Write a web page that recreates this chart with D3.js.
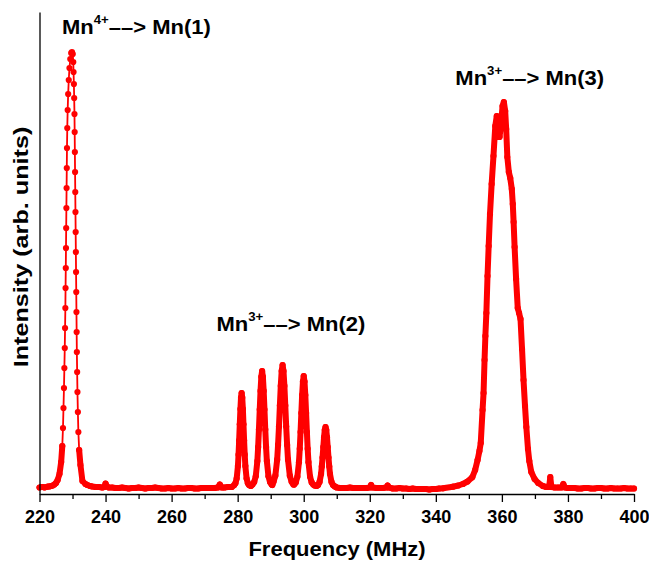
<!DOCTYPE html>
<html>
<head>
<meta charset="utf-8">
<script src="https://cdn.jsdelivr.net/npm/d3@7"></script>
<style>
  body { margin: 0; background: #fff; }
  text { font-family: "Liberation Sans", Arial, sans-serif; font-weight: bold; fill: #000; }
</style>
</head>
<body>
<script>
// tick labels (MHz)
var majorTicks = [220, 240, 260, 280, 300, 320, 340, 360, 380, 400];
var minorTicks = [230, 250, 270, 290, 310, 330, 350, 370, 390];

// annotation texts
var ions = ["4+", "3+", "3+"];
var sites = ["Mn(1)", "Mn(2)", "Mn(3)"];

// spectrum readings: [frequency MHz, intensity arb. units]
var baselineLeft = [
  [220, 6.5], [220.5, 7], [221, 7], [221.5, 6.5], [222, 7], [222.5, 7.5], [223, 7.5],
  [223.5, 8], [224, 8.5], [224.5, 9.5], [225, 11], [225.5, 14]
];

var mn1Peak = [
  [226.05, 20], [226.56, 32], [226.90, 48], [227.11, 66], [227.26, 86], [227.41, 106],
  [227.53, 126], [227.65, 146], [227.74, 166], [227.83, 186], [227.89, 206], [227.96, 226],
  [228.02, 246], [228.08, 266], [228.14, 286], [228.20, 306], [228.26, 326], [228.32, 346],
  [228.41, 366], [228.53, 384], [228.68, 400], [228.86, 414], [229.07, 426], [229.32, 435],
  [229.59, 441], [229.83, 442],
  [230.07, 440], [230.22, 432], [230.31, 422], [230.41, 410], [230.50, 396], [230.59, 380],
  [230.65, 362], [230.71, 342], [230.77, 322], [230.83, 302], [230.89, 282], [230.95, 262],
  [231.01, 242], [231.07, 222], [231.13, 202], [231.19, 182], [231.25, 162], [231.31, 142],
  [231.40, 122], [231.49, 102], [231.62, 82], [231.77, 62], [232.01, 44], [232.40, 29]
];

var baselineMid = [
  [233.0, 13], [233.9, 10], [234.5, 9], [235.3, 8], [236, 7.5], [237, 7], [238, 7], [239, 6.5],
  [239.6, 7], [240, 10.5], [240.4, 7.5], [241, 6.5], [242, 6.5], [243, 6], [244, 6], [245, 6.5],
  [246, 6], [247, 5.5], [248, 6], [249, 6], [250, 6.5], [251, 6], [252, 5.5], [253, 6],
  [254, 6], [255, 6.5], [256, 6], [257, 5.5], [258, 5.5], [259, 6], [260, 5.5], [261, 5.5],
  [262, 6], [263, 5.5], [264, 5.5], [265, 6], [266, 6], [267, 5.5], [268, 5.5], [269, 6],
  [270, 6], [271, 6], [272, 6], [273, 6], [274, 6.5], [274.6, 9.5], [275.2, 6.5], [276, 6.5],
  [277, 7], [277.6, 7]
];

var mn2Peaks = [
  // 281.2
  [278.2, 7], [278.95, 8.9], [279.33, 10.8], [279.7, 15.5], [280.08, 27.9], [280.26, 39.3],
  [280.45, 53.5], [280.64, 69.7], [280.83, 84.9], [281.01, 96.3], [281.2, 101], [281.39, 96.3],
  [281.58, 84.9], [281.76, 69.7], [281.95, 53.5], [282.14, 39.3], [282.33, 27.9], [282.7, 15.5],
  [283.08, 10.8], [283.45, 8.9], [284.0, 8],
  // 287.4
  [284.5, 9.5], [285.0, 11.9], [285.48, 17.7], [285.96, 32.9], [286.2, 47], [286.44, 64.5],
  [286.68, 84.4], [286.92, 103.1], [287.16, 117.2], [287.4, 123], [287.64, 117.2], [287.88, 103.1],
  [288.12, 84.4], [288.36, 64.5], [288.6, 47], [288.84, 32.9], [289.32, 17.7], [289.8, 11.9],
  [290.28, 9.5], [290.5, 9],
  // 293.6
  [290.86, 12.2], [291.41, 18.3], [291.96, 34.3], [292.23, 49.1], [292.51, 67.5], [292.78, 88.4],
  [293.05, 108.1], [293.32, 122.9], [293.6, 129], [293.88, 122.9], [294.15, 108.1], [294.42, 88.4],
  [294.69, 67.5], [294.97, 49.1], [295.24, 34.3], [295.79, 18.3], [296.34, 12.2], [296.85, 9.5],
  // 300.0
  [297.12, 9.4], [297.6, 11.6], [298.08, 17.2], [298.56, 31.8], [298.8, 45.2], [299.04, 62],
  [299.28, 81], [299.52, 99], [299.76, 112.4], [300.0, 118], [300.24, 112.4], [300.48, 99],
  [300.72, 81], [300.96, 62], [301.2, 45.2], [301.44, 31.8], [301.92, 17.2], [302.4, 11.6],
  [302.88, 9.4], [303.3, 8.5],
  // 306.6
  [303.9, 8], [304.35, 9], [304.8, 12.1], [305.25, 20], [305.47, 27.4], [305.7, 36.5],
  [305.93, 46.9], [306.15, 56.6], [306.37, 64], [306.6, 67], [306.83, 64], [307.05, 56.6],
  [307.27, 46.9], [307.5, 36.5], [307.73, 27.4], [307.95, 20], [308.4, 12.1], [308.85, 9],
  [309.3, 7.8], [309.7, 7]
];

var baselineGap = [
  [310, 6.5], [311, 6], [312, 6], [313, 6], [314, 6.5], [315, 6], [316, 6], [317, 6], [318, 6],
  [319, 6], [320, 6.5], [320.4, 9], [320.8, 6.5], [322, 6], [323, 6], [324, 6], [325, 6.5],
  [325.4, 8.5], [325.8, 6.5], [327, 5.5], [328, 5.5], [329, 6], [330, 5.5], [331, 5.5], [332, 5],
  [333, 5.5], [334, 5], [335, 5], [336, 5], [337, 5], [338, 4.5], [339, 5], [340, 5], [341, 5.5]
];

var mn3Peak = [
  [342.14, 5.7], [345.17, 7.3], [346.8, 8.5], [348.19, 10], [349.6, 12.5], [351.03, 16.7],
  [351.9, 24], [352.64, 34], [353.2, 43], [353.6, 51], [354.15, 84], [354.45, 101],
  [354.75, 134], [355.0, 158], [355.3, 181], [355.65, 218], [356.0, 248], [356.4, 280],
  [356.9, 310], [357.45, 338], [358.0, 368], [358.45, 378], [358.8, 371], [359.3, 357],
  [359.8, 372], [360.2, 388], [360.6, 392], [361.0, 383], [361.3, 365], [361.65, 337],
  [362.1, 322], [362.53, 316], [363.0, 305], [363.3, 290], [363.55, 272], [363.85, 247],
  [364.3, 215], [364.8, 186], [365.2, 181], [365.64, 175], [366.1, 145], [366.55, 114],
  [367.0, 88], [367.4, 67], [367.9, 45], [368.3, 33], [368.9, 22], [369.9, 15], [371.0, 11],
  [372.4, 8]
];

var baselineRight = [
  [373.42, 7], [374.3, 7], [374.65, 17], [375.0, 7], [376, 6.5], [377, 6.5], [378, 6.5],
  [378.6, 10], [379.1, 6.5], [380, 6], [381, 6], [382, 6], [383, 5.5], [384, 5.5], [385, 6],
  [386, 6], [387, 5.5], [388, 5.5], [389, 6], [390, 6], [391, 5.5], [392, 5.5], [393, 6],
  [394, 5.5], [395, 5.5], [396, 5.5], [397, 6], [398, 5.5], [399, 5.5], [400, 5.5]
];

// set dimensions
var width = 649;
var height = 562;

var svg = d3.select("body")
    .append("svg")
    .attr("width", width)
    .attr("height", height);

// scales
var xScale = d3.scaleLinear()
    .domain([220, 400])
    .range([39.5, 634]);

var yScale = d3.scaleLinear()
    .domain([0, 482])
    .range([494, 12]);

var data = [].concat(baselineLeft, mn1Peak, baselineMid, mn2Peaks, baselineGap, mn3Peak, baselineRight)
    .map(d => ({f: d[0], v: d[1]}))
    .sort((a, b) => a.f - b.f);

var red = "#ff0000";

// thin connecting line through all points
var thinLine = d3.line()
    .x(d => xScale(d.f))
    .y(d => yScale(d.v));

svg.append("path")
    .datum(data)
    .attr("d", thinLine)
    .attr("fill", "none")
    .attr("stroke", red)
    .attr("stroke-width", 1.8);

// dense parts look like a solid thick band (not the steep Mn(1) flanks)
var thickLine = d3.line()
    .defined(d => d.f <= 226.9 || d.f >= 232.0)
    .x(d => xScale(d.f))
    .y(d => yScale(d.v));

svg.append("path")
    .datum(data)
    .attr("d", thickLine)
    .attr("fill", "none")
    .attr("stroke", red)
    .attr("stroke-width", 6)
    .attr("stroke-linejoin", "round")
    .attr("stroke-linecap", "round");

// markers
svg.selectAll("circle")
    .data(data)
    .enter()
    .append("circle")
    .attr("cx", d => xScale(d.f))
    .attr("cy", d => yScale(d.v))
    .attr("r", 3.1)
    .attr("fill", red);

// axes
var xAxis = d3.axisBottom(xScale)
    .tickValues(majorTicks)
    .tickSize(8)
    .tickPadding(9)
    .tickSizeOuter(0);

var gx = svg.append("g")
    .attr("transform", `translate(0, ${yScale(0)})`)
    .call(xAxis);

gx.select(".domain").attr("stroke-width", 1.3);
gx.selectAll(".tick line").attr("stroke-width", 1.3);
gx.selectAll(".tick text")
    .attr("font-size", 17.5)
    .attr("transform", "scale(1.03,1)");

var gMinor = svg.append("g")
    .attr("transform", `translate(0, ${yScale(0)})`)
    .call(d3.axisBottom(xScale).tickValues(minorTicks).tickSize(5).tickFormat(""));
gMinor.select(".domain").remove();
gMinor.selectAll(".tick line").attr("stroke-width", 1.3);

var gy = svg.append("g")
    .attr("transform", `translate(${xScale(220)}, 0)`)
    .call(d3.axisLeft(yScale).tickValues([]).tickSizeOuter(0));
gy.select(".domain").attr("stroke-width", 1.3);

// axis titles
svg.append("text")
    .attr("transform", "translate(337, 556) scale(1.1,1)")
    .attr("text-anchor", "middle")
    .attr("font-size", 20)
    .text("Frequency (MHz)");

svg.append("text")
    .attr("transform", "translate(28, 247) rotate(-90) scale(1.2,1)")
    .attr("text-anchor", "middle")
    .attr("font-size", 21)
    .text("Intensity (arb. units)");

// peak annotations
var labelAt = [[226.8, 460], [273.6, 163], [345.9, 409]];

labelAt.forEach(function(p, i) {
    var t = svg.append("text")
        .attr("transform", `translate(${xScale(p[0])}, ${yScale(p[1])}) scale(1.1,1)`)
        .attr("font-size", 20);
    t.append("tspan").text("Mn");
    t.append("tspan").attr("font-size", 12).attr("dy", -10).text(ions[i]);
    t.append("tspan").attr("dy", 10).text("\u2013\u2013> " + sites[i]);
});
</script>
</body>
</html>
